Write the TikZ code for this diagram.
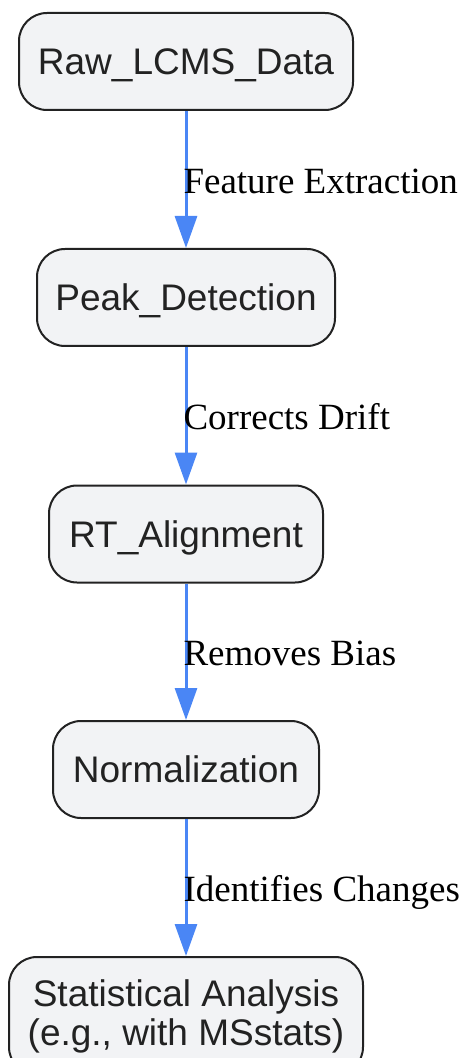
\documentclass[tikz,border=0pt]{standalone}
\usepackage{fontspec}
\setmainfont{Liberation Serif}
\newfontfamily\boxfont{Liberation Sans}
\usetikzlibrary{arrows.meta}
\definecolor{boxfill}{HTML}{F2F3F5}
\definecolor{boxline}{HTML}{222222}
\definecolor{boxtext}{HTML}{222222}
\definecolor{arrowblue}{HTML}{4A86F5}
\begin{document}
\begin{tikzpicture}[x=0.5pt,y=-0.5pt,
  stepbox/.style={draw=boxline, line width=1pt, fill=boxfill, rounded corners=14pt,
    minimum height=48.5pt, inner sep=0pt, text=boxtext, align=center,
    font=\boxfont\fontsize{18.5}{19.5}\selectfont},
  oneline/.style={text height=13.2pt, text depth=0pt},
  flow/.style={draw=arrowblue, line width=1.5pt, -{Triangle[width=11pt,length=16pt]}},
  lbl/.style={anchor=west, inner sep=0pt, xshift=-2pt, yshift=-1pt, text height=12pt, text depth=0pt,
    font=\fontsize{18.5}{20}\selectfont, text=black}
]
\useasboundingbox (0,0) rectangle (464,1058);
\node[stepbox, oneline, minimum width=167pt] (raw) at (186,61.5) {Raw\_LCMS\_Data};
\node[stepbox, oneline, minimum width=149pt] (peak) at (186,297.5) {Peak\_Detection};
\node[stepbox, oneline, minimum width=137pt] (rt) at (186,534) {RT\_Alignment};
\node[stepbox, oneline, minimum width=133pt] (norm) at (186,769.5) {Normalization};
\node[stepbox, minimum width=177pt, minimum height=59pt] (stat) at (186,1016) {Statistical Analysis\\(e.g., with MSstats)};
\draw[flow] (raw.south) -- node[lbl] {Feature Extraction} (peak.north);
\draw[flow] (peak.south) -- node[lbl] {Corrects Drift} (rt.north);
\draw[flow] (rt.south) -- node[lbl] {Removes Bias} (norm.north);
\draw[flow] (norm.south) -- node[lbl] {Identifies Changes} (stat.north);
\end{tikzpicture}
\end{document}
